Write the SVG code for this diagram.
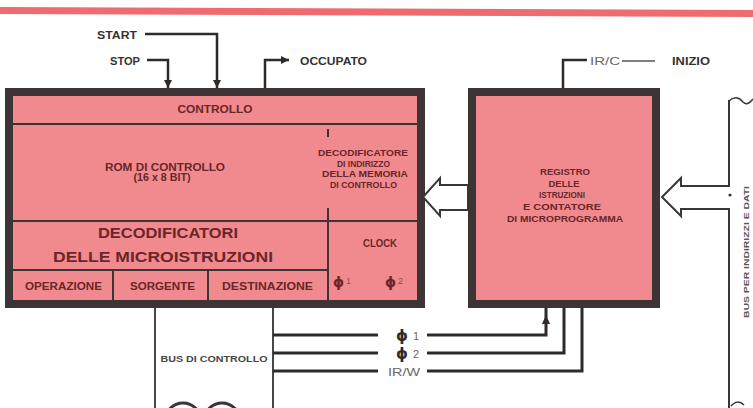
<svg xmlns="http://www.w3.org/2000/svg" width="753" height="408" viewBox="0 0 753 408">
<defs>
<style>
.blk{fill:#f08a8e;stroke:#3d3535;stroke-width:8}
.div{stroke:#3d3535;stroke-width:2;fill:none}
.t{font-family:"Liberation Sans",Arial,sans-serif;font-weight:bold;fill:#6a2628}
.lbl{font-family:"Liberation Sans",Arial,sans-serif;font-weight:bold;fill:#363232;font-size:11px}
.thin{font-family:"Liberation Sans",Arial,sans-serif;fill:#6a6666;font-size:11px}
.w{stroke:#2e2a2a;stroke-width:2.5;fill:none}
.cb{stroke:#2e2a2a;stroke-width:3;fill:none}
.hol{stroke:#3a3636;stroke-width:2;fill:#ffffff}
.phi{font-family:"DejaVu Sans",sans-serif;font-weight:bold}
</style>
<marker id="ah" viewBox="0 0 8 8" refX="8" refY="4" markerWidth="8" markerHeight="8" markerUnits="userSpaceOnUse" orient="auto"><path d="M0,0 L8,4 L0,8 z" fill="#2e2a2a"/></marker>
</defs>
<rect width="753" height="408" fill="#ffffff"/>
<polygon points="0,7 753,10 753,17 0,14" fill="#ef6b70"/>

<g id="unita-controllo">
<rect class="blk" x="9" y="92" width="412" height="212"/>
<g id="controllo">
<line class="div" x1="13" y1="124" x2="417" y2="124"/>
<text class="t" x="215" y="113" font-size="10.5" text-anchor="middle" textLength="75" lengthAdjust="spacingAndGlyphs">CONTROLLO</text>
</g>
<g id="rom">
<text class="t" x="165" y="171" font-size="10" text-anchor="middle" textLength="120" lengthAdjust="spacingAndGlyphs">ROM DI CONTROLLO</text>
<text class="t" x="162" y="180.5" font-size="10" text-anchor="middle" textLength="57" lengthAdjust="spacingAndGlyphs">(16 x 8 BIT)</text>
</g>
<g id="decodificatore-indirizzo">
<line class="div" x1="328" y1="129" x2="328" y2="137"/>
<line class="div" x1="328" y1="208" x2="328" y2="221"/>
<text class="t" x="363" y="156" font-size="8.5" text-anchor="middle" textLength="90" lengthAdjust="spacingAndGlyphs">DECODIFICATORE</text>
<text class="t" x="363.5" y="166.5" font-size="8.5" text-anchor="middle" textLength="53" lengthAdjust="spacingAndGlyphs">DI INDIRIZZO</text>
<text class="t" x="365" y="177" font-size="8.5" text-anchor="middle" textLength="86" lengthAdjust="spacingAndGlyphs">DELLA MEMORIA</text>
<text class="t" x="363.5" y="187.5" font-size="8.5" text-anchor="middle" textLength="67" lengthAdjust="spacingAndGlyphs">DI CONTROLLO</text>
</g>
<line class="div" x1="13" y1="221" x2="417" y2="221"/>
<g id="decodificatori">
<text class="t" x="168" y="237.5" font-size="15" text-anchor="middle" textLength="140" lengthAdjust="spacingAndGlyphs">DECODIFICATORI</text>
<text class="t" x="163" y="261.5" font-size="15" text-anchor="middle" textLength="220" lengthAdjust="spacingAndGlyphs">DELLE MICROISTRUZIONI</text>
<line class="div" x1="13" y1="270" x2="328" y2="270"/>
</g>
<g id="operazione">
<text class="t" x="63.5" y="290" font-size="10" text-anchor="middle" textLength="77" lengthAdjust="spacingAndGlyphs">OPERAZIONE</text>
</g>
<line class="div" x1="113" y1="270" x2="113" y2="300"/>
<g id="sorgente">
<text class="t" x="162.5" y="290" font-size="10" text-anchor="middle" textLength="65" lengthAdjust="spacingAndGlyphs">SORGENTE</text>
</g>
<line class="div" x1="208" y1="270" x2="208" y2="300"/>
<g id="destinazione">
<text class="t" x="267.5" y="290" font-size="10" text-anchor="middle" textLength="91" lengthAdjust="spacingAndGlyphs">DESTINAZIONE</text>
</g>
<g id="clock">
<line class="div" x1="328" y1="221" x2="328" y2="300"/>
<text class="t" x="380" y="247" font-size="10" text-anchor="middle" textLength="34" lengthAdjust="spacingAndGlyphs">CLOCK</text>
<text class="t phi" x="333" y="287" font-size="14">ϕ</text>
<text x="346" y="284" font-size="9" font-family="Liberation Sans,Arial,sans-serif" fill="#9a4848">1</text>
<text class="t phi" x="385" y="287" font-size="14">ϕ</text>
<text x="398" y="284" font-size="9" font-family="Liberation Sans,Arial,sans-serif" fill="#9a4848">2</text>
</g>
</g>

<g id="registro">
<rect class="blk" x="472" y="92" width="184" height="212"/>
<g class="t" font-size="9.5" text-anchor="middle">
<text x="565" y="175" textLength="50" lengthAdjust="spacingAndGlyphs">REGISTRO</text>
<text x="564" y="187" textLength="31" lengthAdjust="spacingAndGlyphs">DELLE</text>
<text x="562" y="198" textLength="46" lengthAdjust="spacingAndGlyphs">ISTRUZIONI</text>
<text x="562" y="210" textLength="78" lengthAdjust="spacingAndGlyphs">E  CONTATORE</text>
<text x="565" y="221.5" textLength="116" lengthAdjust="spacingAndGlyphs">DI MICROPROGRAMMA</text>
</g>
</g>

<g id="bus-controllo">
<line x1="155" y1="308" x2="155" y2="408" stroke="#4a4545" stroke-width="2"/>
<line x1="273" y1="308" x2="273" y2="408" stroke="#4a4545" stroke-width="2"/>
<text x="214" y="362" font-family="Liberation Sans,Arial,sans-serif" font-weight="bold" font-size="9" fill="#4a4545" text-anchor="middle" textLength="107" lengthAdjust="spacingAndGlyphs">BUS DI CONTROLLO</text>
<circle cx="183" cy="421" r="18" fill="none" stroke="#3a3636" stroke-width="3"/>
<circle cx="222" cy="421" r="18" fill="none" stroke="#3a3636" stroke-width="3"/>
</g>

<g id="bus-dati">
<path class="hol" d="M729,100 V186 H681 V178 L662,197 L681,216 V209 H729 V408"/>
<path d="M729,101 C734,96 739,97 743,102 C746,105 749,104 753,99" fill="none" stroke="#3a3636" stroke-width="1.5"/>
<path d="M731,406 C735,401 740,401 744,405" fill="none" stroke="#3a3636" stroke-width="1.5"/>
<circle cx="730" cy="195" r="1.6" fill="#3a3636"/>
<text transform="translate(749,252) rotate(-90)" font-family="Liberation Sans,Arial,sans-serif" font-weight="bold" font-size="8" fill="#5a5555" text-anchor="middle" textLength="132" lengthAdjust="spacingAndGlyphs">BUS PER INDIRIZZI E DATI</text>
</g>

<g id="connettori">
<text class="lbl" x="97" y="39" textLength="40" lengthAdjust="spacingAndGlyphs">START</text>
<path class="w" d="M145,34 H217 V88" marker-end="url(#ah)"/>
<text class="lbl" x="110" y="65" textLength="30" lengthAdjust="spacingAndGlyphs">STOP</text>
<path class="w" d="M147,60 H168 V88" marker-end="url(#ah)"/>
<path class="w" d="M265,88 V60 H289" marker-end="url(#ah)"/>
<text class="lbl" x="300" y="65" textLength="67" lengthAdjust="spacingAndGlyphs">OCCUPATO</text>
<path class="w" d="M563,88 V60 H587" stroke-width="3"/>
<text class="thin" x="590" y="65" textLength="30" lengthAdjust="spacingAndGlyphs">IR/C</text>
<line x1="622" y1="61" x2="655" y2="61" stroke="#555" stroke-width="1.5"/>
<text class="lbl" x="672" y="65" textLength="38" lengthAdjust="spacingAndGlyphs">INIZIO</text>

<polygon class="hol" points="468,185 440,185 440,178 423,197 440,216 440,210 468,210"/>

<path class="cb" d="M273,335 H378"/>
<path class="cb" d="M427,335 H546 V308"/>
<polygon points="546,315 542,324 550,324" fill="#2e2a2a"/>
<path class="cb" d="M273,353 H378"/>
<path class="cb" d="M427,353 H564 V308"/>
<path class="cb" d="M273,371 H378"/>
<path class="cb" d="M427,371 H582 V308"/>
<text class="phi" x="396" y="341" font-size="15" fill="#2e2a2a">ϕ</text>
<text class="thin" x="413" y="340" font-size="12">1</text>
<text class="phi" x="396" y="359" font-size="15" fill="#2e2a2a">ϕ</text>
<text class="thin" x="413" y="358" font-size="12">2</text>
<text class="thin" x="388" y="376" font-size="12" fill="#555" textLength="32" lengthAdjust="spacingAndGlyphs">IR/W</text>
</g>
</svg>
